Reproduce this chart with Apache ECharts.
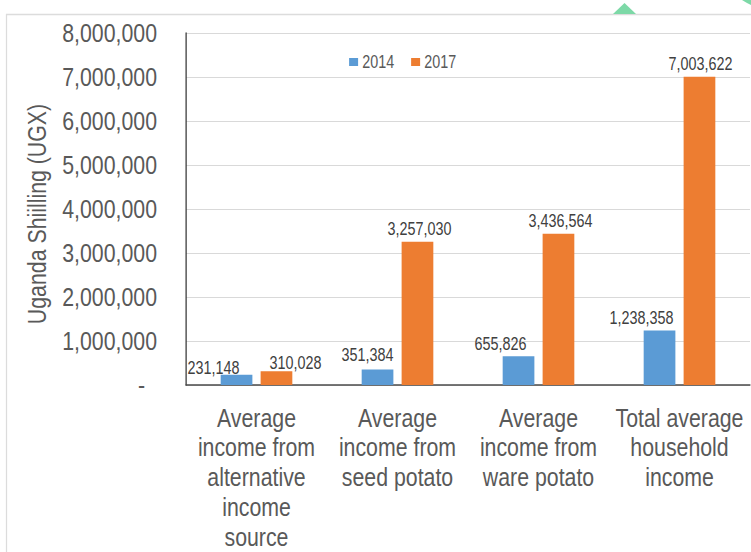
<!DOCTYPE html>
<html>
<head>
<meta charset="utf-8">
<script src="https://cdn.jsdelivr.net/npm/echarts@6/dist/echarts.min.js"></script>
<style>
  html, body { margin: 0; padding: 0; background: #ffffff; overflow: hidden; }
  #frame { width: 751px; height: 552px; overflow: hidden; position: relative; }
  /* The chart is laid out on a wider stage and squeezed horizontally,
     which gives the regular sans face the proportions of a narrow face. */
  #chart { width: 916px; height: 552px; transform-origin: 0 0; }
</style>
</head>
<body>
<div id="frame"><div id="chart"></div></div>
<script>
// Household income categories and yearly averages (UGX)
const categories = [
  'Average\nincome from\nalternative\nincome\nsource',
  'Average\nincome from\nseed potato',
  'Average\nincome from\nware potato',
  'Total average\nhousehold\nincome'
];
const years = ['2014', '2017'];
const income2014 = [231148, 351384, 655826, 1238358];
const income2017 = [310028, 3257030, 3436564, 7003622];

// Y axis range
const yMin = 0;
const yMax = 8000000;
const yStep = 1000000;

// Nudges (screen px) for value labels that sit beside their bars
const shift2014 = [[-23, 6], [-10, -2.5], [-18, 0], [-18, 0]];
const shift2017 = [[19, 4], [2, 0], [2, 0], [1, 0]];

const STAGE_W = 916;
const VIEW_W = 751;
const K = VIEW_W / STAGE_W;          // horizontal squeeze factor
const sx = x => x / K;               // screen x -> stage x

document.getElementById('chart').style.transform = 'scaleX(' + K + ')';

const FONT = '"Liberation Sans", Arial, sans-serif';
const fmt = v => v.toLocaleString('en-US');

function withLabels(values, shifts) {
  return values.map((v, i) => ({
    value: v,
    label: { offset: [sx(shifts[i][0]), shifts[i][1]] }
  }));
}

const labelStyle = {
  show: true,
  position: 'top',
  distance: 3.5,
  fontFamily: FONT,
  fontSize: 17.5,
  color: '#404040',
  formatter: p => fmt(p.value)
};

const chart = echarts.init(document.getElementById('chart'), null, { renderer: 'svg' });
chart.setOption({
  animation: false,
  backgroundColor: '#ffffff',
  textStyle: { fontFamily: FONT },
  grid: {
    left: sx(186), right: sx(1), top: 33, bottom: 167,
    outerBoundsMode: 'none',
    containLabel: false
  },
  legend: {
    data: years,
    left: sx(345),
    top: 48,
    itemWidth: sx(9),
    itemHeight: 8,
    itemGap: sx(17),
    icon: 'rect',
    textStyle: { fontFamily: FONT, fontSize: 17.5, color: '#595959' }
  },
  xAxis: {
    type: 'category',
    data: categories,
    axisLine: { lineStyle: { color: '#4a4a4a', width: 1.5 } },
    axisTick: { show: false },
    axisLabel: {
      interval: 0,
      margin: 17.5,
      fontFamily: FONT,
      fontSize: 26,
      lineHeight: 29.8,
      color: '#595959',
      align: 'center'
    }
  },
  yAxis: {
    type: 'value',
    min: yMin,
    max: yMax,
    interval: yStep,
    axisLine: { show: true, lineStyle: { color: '#333333', width: 1.5 } },
    axisTick: { show: false },
    splitLine: { lineStyle: { color: '#d9d9d9', width: 1.2 } },
    axisLabel: {
      margin: sx(29),
      fontFamily: FONT,
      fontSize: 26,
      color: '#595959',
      formatter: v => (v === 0 ? '-  ' : fmt(v))
    }
  },
  graphic: [
    {
      type: 'rect',
      silent: true,
      shape: { x: sx(6.5), y: 14.5, width: 1000, height: 600 },
      style: { fill: 'none', stroke: '#dcdcdc', lineWidth: 1.5 }
    },
    {
      type: 'polygon',
      silent: true,
      shape: { points: [[sx(613), 14], [sx(636), 14], [sx(624.5), 3]] },
      style: { fill: '#7dd9a7' }
    },
    {
      type: 'polygon',
      silent: true,
      shape: { points: [[sx(742), 0], [sx(751), 0], [sx(751), 5], [sx(747), 3]] },
      style: { fill: '#7dd9a7' }
    },
    {
      type: 'text',
      silent: true,
      x: sx(37),
      y: 214,
      rotation: Math.PI / 2,
      scaleX: K,
      scaleY: 1 / K,
      style: {
        text: 'Uganda Shiilling (UGX)',
        font: '26px ' + FONT,
        fill: '#595959',
        textAlign: 'center',
        textVerticalAlign: 'middle'
      }
    }
  ],
  series: [
    {
      name: years[0],
      type: 'bar',
      data: withLabels(income2014, shift2014),
      barWidth: sx(31.7),
      barGap: '26%',
      itemStyle: { color: '#5b9bd5' },
      label: labelStyle
    },
    {
      name: years[1],
      type: 'bar',
      data: withLabels(income2017, shift2017),
      barWidth: sx(31.7),
      barGap: '26%',
      itemStyle: { color: '#ed7d31' },
      label: labelStyle
    }
  ]
});
</script>
</body>
</html>
